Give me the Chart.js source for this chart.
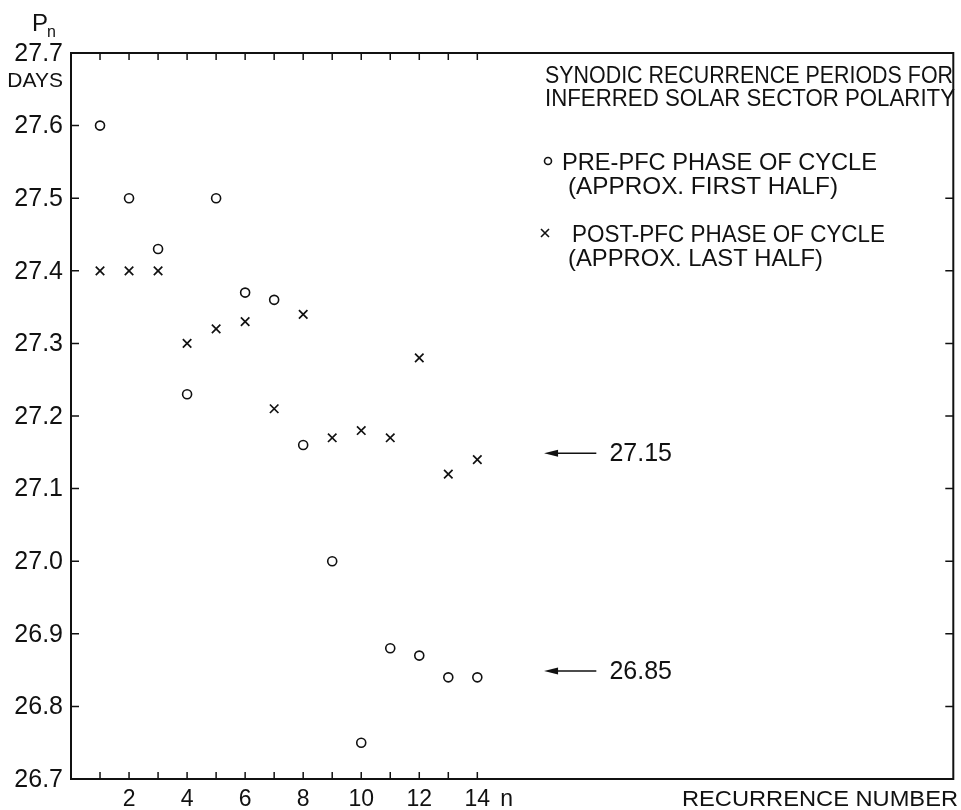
<!DOCTYPE html>
<html>
<head>
<meta charset="utf-8">
<script src="https://cdn.jsdelivr.net/npm/chart.js@4.4.0/dist/chart.umd.min.js"></script>
<style>
  html, body { margin: 0; padding: 0; background: #ffffff; }
  canvas { display: block; }
</style>
</head>
<body>
<canvas id="recurrenceChart" width="961" height="810"></canvas>
<script>
var recurrenceNumbers = [1, 2, 3, 4, 5, 6, 7, 8, 9, 10, 11, 12, 13, 14];
var prePfcPeriods = [27.60, 27.50, 27.43, 27.23, 27.50, 27.37, 27.36, 27.16, 27.00, 26.75, 26.88, 26.87, 26.84, 26.84];
var postPfcPeriods = [27.40, 27.40, 27.40, 27.30, 27.32, 27.33, 27.21, 27.34, 27.17, 27.18, 27.17, 27.28, 27.12, 27.14];

var periodTicks = [26.7, 26.8, 26.9, 27.0, 27.1, 27.2, 27.3, 27.4, 27.5, 27.6, 27.7];
var rightPeriodTicks = [26.8, 26.9, 27.0, 27.1, 27.2, 27.3, 27.4, 27.5];
var recurrenceTicks = [1, 2, 3, 4, 5, 6, 7, 8, 9, 10, 11, 12, 13, 14];
var recurrenceLabels = [2, 4, 6, 8, 10, 12, 14];
var markedPeriods = [27.15, 26.85];

(function () {
  var ink = "#111111";
  var font = "'Liberation Sans', Arial, sans-serif";

  function points(values) {
    return recurrenceNumbers.map(function (n, i) {
      return { x: n, y: values[i] };
    });
  }

  // stretch text to the width it has in the original lettering
  function fitText(ctx, text, x, y, width) {
    var w = ctx.measureText(text).width;
    ctx.save();
    ctx.translate(x, y);
    ctx.scale(width / w, 1);
    ctx.fillText(text, 0, 0);
    ctx.restore();
  }

  var framePlugin = {
    id: "frame",
    afterDraw: function (chart) {
      var ctx = chart.ctx;
      var area = chart.chartArea;
      var xs = chart.scales.x;
      var ys = chart.scales.y;

      ctx.save();
      ctx.strokeStyle = ink;
      ctx.fillStyle = ink;

      // frame
      ctx.lineWidth = 2;
      ctx.strokeRect(area.left, area.top, area.right - area.left, area.bottom - area.top);

      // inward ticks
      ctx.lineWidth = 1.5;
      ctx.beginPath();
      recurrenceTicks.forEach(function (n) {
        var px = xs.getPixelForValue(n);
        ctx.moveTo(px, area.bottom);
        ctx.lineTo(px, area.bottom - 7);
        ctx.moveTo(px, area.top);
        ctx.lineTo(px, area.top + 7);
      });
      periodTicks.forEach(function (v) {
        var py = ys.getPixelForValue(v);
        ctx.moveTo(area.left, py);
        ctx.lineTo(area.left + 8, py);
      });
      rightPeriodTicks.forEach(function (v) {
        var py = ys.getPixelForValue(v);
        ctx.moveTo(area.right, py);
        ctx.lineTo(area.right - 8, py);
      });
      ctx.stroke();

      // y tick labels
      ctx.font = "25px " + font;
      ctx.textAlign = "right";
      ctx.textBaseline = "middle";
      periodTicks.forEach(function (v) {
        ctx.fillText(v.toFixed(1), 63, ys.getPixelForValue(v) + 1);
      });
      ctx.font = "21px " + font;
      ctx.fillText("DAYS", 63, 81);

      ctx.textAlign = "left";
      ctx.textBaseline = "alphabetic";
      ctx.font = "24px " + font;
      ctx.fillText("P", 32, 31);
      ctx.font = "16px " + font;
      ctx.fillText("n", 47, 37);

      // x tick labels
      ctx.font = "23px " + font;
      ctx.textAlign = "center";
      recurrenceLabels.forEach(function (n) {
        ctx.fillText(String(n), xs.getPixelForValue(n), 806);
      });
      ctx.textAlign = "left";
      ctx.fillText("n", xs.getPixelForValue(14) + 23, 806);
      ctx.font = "22px " + font;
      fitText(ctx, "RECURRENCE NUMBER", 682, 806, 276);

      // marked periods with arrows
      ctx.font = "25px " + font;
      ctx.textBaseline = "middle";
      markedPeriods.forEach(function (v) {
        var py = ys.getPixelForValue(v) + 1;
        var x0 = xs.getPixelForValue(16.3);
        var x1 = xs.getPixelForValue(18.1);
        ctx.lineWidth = 1.5;
        ctx.beginPath();
        ctx.moveTo(x0 + 10, py);
        ctx.lineTo(x1, py);
        ctx.stroke();
        ctx.beginPath();
        ctx.moveTo(x0, py);
        ctx.lineTo(x0 + 14, py - 3.5);
        ctx.lineTo(x0 + 14, py + 3.5);
        ctx.closePath();
        ctx.fill();
        ctx.fillText(v.toFixed(2), xs.getPixelForValue(18.55), py + 1);
      });

      // legend block
      ctx.textBaseline = "alphabetic";
      ctx.font = "24px " + font;
      fitText(ctx, "SYNODIC RECURRENCE PERIODS FOR", 545, 83, 408);
      fitText(ctx, "INFERRED SOLAR SECTOR POLARITY", 545, 106, 410);
      fitText(ctx, "PRE-PFC PHASE OF CYCLE", 562, 170, 315);
      fitText(ctx, "(APPROX. FIRST HALF)", 568, 194, 270);
      fitText(ctx, "POST-PFC PHASE OF CYCLE", 572, 242, 313);
      fitText(ctx, "(APPROX. LAST HALF)", 568, 266, 255);

      ctx.lineWidth = 1.6;
      ctx.beginPath();
      ctx.arc(548, 161, 3.5, 0, Math.PI * 2);
      ctx.stroke();
      ctx.beginPath();
      ctx.moveTo(541, 229);
      ctx.lineTo(549, 237);
      ctx.moveTo(549, 229);
      ctx.lineTo(541, 237);
      ctx.stroke();

      ctx.restore();
    }
  };

  new Chart(document.getElementById("recurrenceChart"), {
    type: "scatter",
    data: {
      datasets: [{
        label: "PRE-PFC PHASE OF CYCLE",
        data: points(prePfcPeriods),
        pointStyle: "circle",
        pointRadius: 4.5,
        borderColor: ink,
        backgroundColor: "rgba(0,0,0,0)",
        borderWidth: 1.6
      }, {
        label: "POST-PFC PHASE OF CYCLE",
        data: points(postPfcPeriods),
        pointStyle: "crossRot",
        pointRadius: 6,
        borderColor: ink,
        backgroundColor: ink,
        borderWidth: 1.7
      }]
    },
    options: {
      responsive: false,
      animation: false,
      devicePixelRatio: 1,
      layout: { padding: { left: 71, right: 1, top: 53, bottom: 31 } },
      plugins: {
        legend: { display: false },
        tooltip: { enabled: false }
      },
      scales: {
        x: { type: "linear", display: false, min: 0, max: 30.4 },
        y: { type: "linear", display: false, min: 26.7, max: 27.7 }
      }
    },
    plugins: [framePlugin]
  });
})();
</script>
</body>
</html>
